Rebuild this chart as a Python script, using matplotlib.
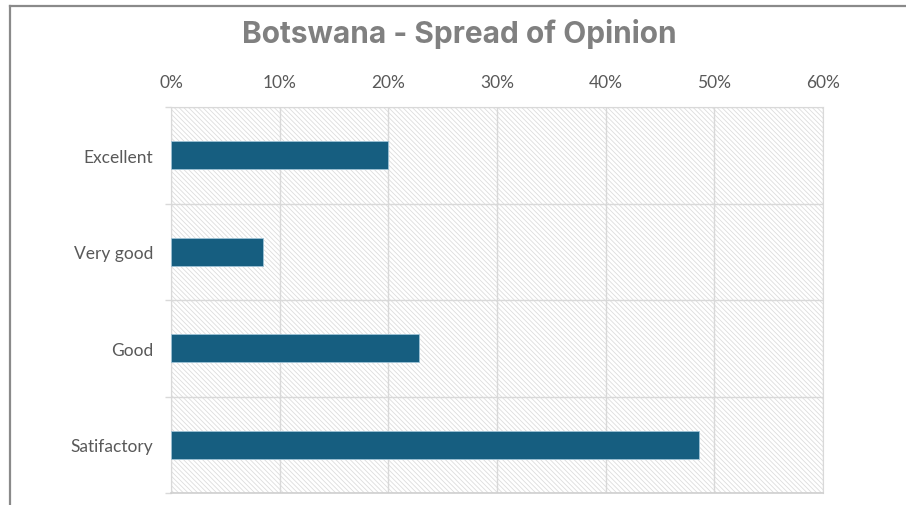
import matplotlib
matplotlib.use("Agg")
import matplotlib.pyplot as plt
from matplotlib.patches import Rectangle
from matplotlib.lines import Line2D
from matplotlib.ticker import FixedLocator, PercentFormatter

# Share of respondents per rating
categories = ["Excellent", "Very good", "Good", "Satifactory"]
shares = [20.0, 8.5, 22.8, 48.6]
xticks = [0, 10, 20, 30, 40, 50, 60]

BAR = "#165e80"
GRID = "#d9d9d9"
TEXT = "#595959"

plt.rcParams["font.family"] = ["Lato", "DejaVu Sans"]
plt.rcParams["hatch.color"] = "#dddddd"
plt.rcParams["hatch.linewidth"] = 0.6

fig = plt.figure(figsize=(9.06, 5.06), dpi=100)
ax = fig.add_axes([171 / 906, 1 - 494 / 506, (823 - 171) / 906, (494 - 108) / 506])

# hatched plot background
ax.add_patch(Rectangle((0, 0), 1, 1, transform=ax.transAxes, facecolor="white",
                       edgecolor="#dddddd", hatch="\\" * 7, linewidth=0, zorder=0))

pos = list(range(len(categories)))
ax.barh(pos, shares, height=0.29, color=BAR, edgecolor="#9fc3d6", linewidth=0.6, zorder=3)

ax.set_xlim(0, 60)
ax.set_ylim(3.5, -0.5)
ax.set_xticks(xticks)
ax.xaxis.set_major_formatter(PercentFormatter(decimals=0))
ax.xaxis.tick_top()
ax.tick_params(axis="x", length=0, pad=12, labelsize=12.5, labelcolor=TEXT)
ax.grid(axis="x", color=GRID, linewidth=1, zorder=1)

ax.set_yticks(pos)
ax.set_yticklabels(categories)
ax.yaxis.set_minor_locator(FixedLocator([-0.5, 0.5, 1.5, 2.5, 3.5]))
ax.tick_params(axis="y", which="major", length=0, pad=13, labelsize=12.5, labelcolor=TEXT)
ax.tick_params(axis="y", which="minor", length=4.5, color=GRID, width=1)
ax.grid(axis="y", which="minor", color=GRID, linewidth=1, zorder=1)

for side in ["top", "left", "right"]:
    ax.spines[side].set_color(GRID)
ax.spines["bottom"].set_color("#cfcfcf")
ax.spines["bottom"].set_linewidth(1.2)

fig.text(0.507, 1 - 34 / 506, "Botswana - Spread of Opinion", ha="center", va="center",
         fontsize=21.5, fontweight="bold", color="#808080", family=["Inter", "DejaVu Sans"])

# outer frame edges
fig.add_artist(Line2D([10 / 906, 1], [1 - 7 / 506, 1 - 7 / 506], color="#8a8a8a", linewidth=1.6))
fig.add_artist(Line2D([10 / 906, 10 / 906], [0, 1 - 7 / 506], color="#8a8a8a", linewidth=1.6))

fig.savefig("out.png", dpi=100)
